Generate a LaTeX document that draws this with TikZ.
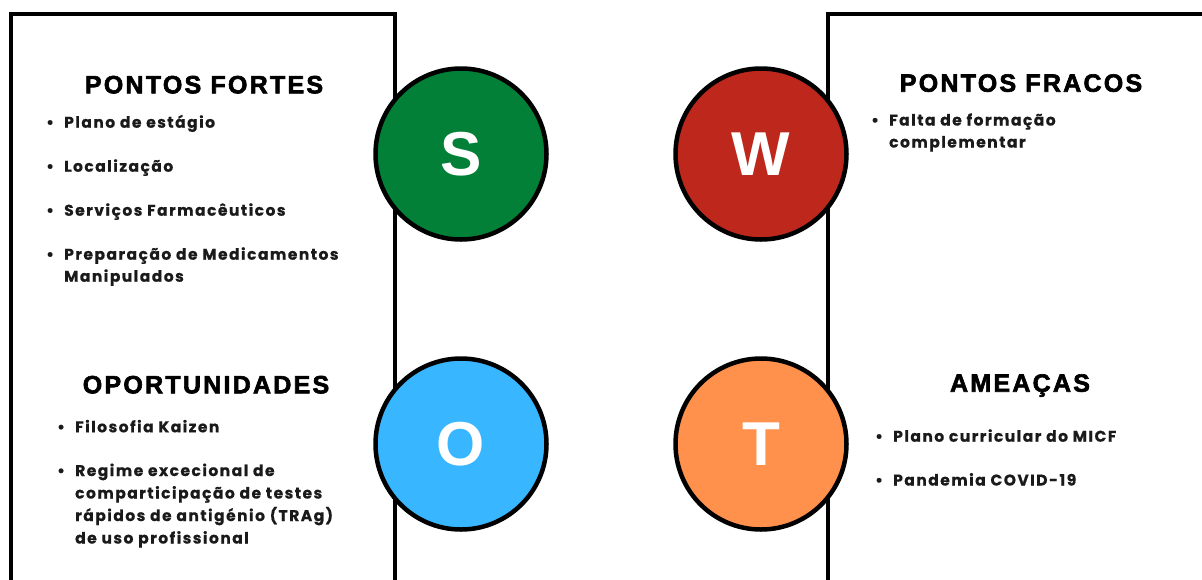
\documentclass[tikz,border=0pt]{standalone}
\usepackage{fontspec}
\newfontfamily\bulfont{Poppins}[LetterSpace=9.5,FakeBold=0.6]
\newfontfamily\hdfont{Liberation Sans}[LetterSpace=9,FakeBold=2.5]
\newfontfamily\letfont{Liberation Sans}
\definecolor{sgreen}{HTML}{038037}
\definecolor{wred}{HTML}{BE281C}
\definecolor{oblue}{HTML}{38B6FF}
\definecolor{torange}{HTML}{FF914D}
\definecolor{txt}{HTML}{1A1A1A}
\tikzset{
  frame/.style={line width=4.5pt, draw=black},
  letter/.style={circle, draw=black, line width=4.5pt, minimum size=171pt, inner sep=0pt,
    text=white, font=\letfont\bfseries\fontsize{62}{62}\selectfont},
  heading/.style={anchor=base, inner sep=0pt, text=black, font=\hdfont\bfseries\fontsize{25}{25}\selectfont},
  itemline/.style={anchor=base west, inner sep=0pt, text=txt, font=\bulfont\bfseries\fontsize{15.5}{15.5}\selectfont},
  dot/.style={anchor=base west, inner sep=0pt, text=txt, font=\bulfont\bfseries\fontsize{15.5}{15.5}\selectfont}
}
\begin{document}
\begin{tikzpicture}[x=1pt,y=-1pt]
\useasboundingbox (0,0) rectangle (1202,579);
\clip (0,0) rectangle (1202,579);
\fill[white] (0,0) rectangle (1202,579);
% frames
\draw[frame] (11,600) -- (11,14) -- (395,14) -- (395,600);
\draw[frame] (828,600) -- (828,14) -- (1220,14);
% circles
\node[letter, fill=sgreen] (S) at (461,154) {S};
\node[letter, fill=wred] (W) at (761,154) {W};
\node[letter, fill=oblue] (O) at (461,444) {O};
\node[letter, fill=torange] (T) at (761,444) {T};
% headings
\node[heading] (hS) at (204,93.3) {PONTOS FORTES};
\node[heading] (hW) at (1021,91.7) {PONTOS FRACOS};
\node[heading] (hO) at (206,393.3) {OPORTUNIDADES};
\node[heading] (hT) at (1020,391.7) {AMEAÇAS};
% strengths
\node[dot] (bS1) at (46,127.7) {•};
\node[itemline] (tS1) at (64,127.7) {Plano de estágio};
\node[dot] (bS2) at (46,171.7) {•};
\node[itemline] (tS2) at (64,171.7) {Localização};
\node[dot] (bS3) at (46,215.7) {•};
\node[itemline] (tS3) at (64,215.7) {Serviços Farmacêuticos};
\node[dot] (bS4) at (46,259.7) {•};
\node[itemline] (tS4) at (64,259.7) {Preparação de Medicamentos};
\node[itemline] (tS4b) at (64,281.7) {Manipulados};
% weaknesses
\node[dot] (bW1) at (871,125.5) {•};
\node[itemline] (tW1) at (889,125.5) {Falta de formação};
\node[itemline] (tW1b) at (889,147.5) {complementar};
% opportunities
\node[dot] (bO1) at (57,432.3) {•};
\node[itemline] (tO1) at (75,432.3) {Filosofia Kaizen};
\node[dot] (bO2) at (57,476) {•};
\node[itemline] (tO2) at (75,476) {Regime excecional de};
\node[itemline] (tO2b) at (75,498.5) {comparticipação de testes};
\node[itemline] (tO2c) at (75,521) {rápidos de antigénio (TRAg)};
\node[itemline] (tO2d) at (75,543.5) {de uso profissional};
% threats
\node[dot] (bT1) at (875,441.7) {•};
\node[itemline] (tT1) at (893,441.7) {Plano curricular do MICF};
\node[dot] (bT2) at (875,485.5) {•};
\node[itemline] (tT2) at (893,485.5) {Pandemia COVID-19};
\end{tikzpicture}
\end{document}
